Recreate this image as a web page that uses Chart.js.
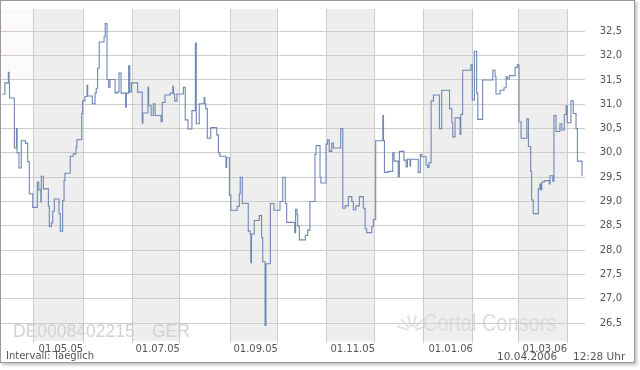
<!DOCTYPE html>
<html lang="de">
<head>
<meta charset="utf-8">
<title>DE0008402215 Kursverlauf</title>
<script src="https://cdn.jsdelivr.net/npm/chart.js@4/dist/chart.umd.min.js"></script>
<style>
  html, body { margin: 0; padding: 0; background: #fff; }
  #rahmen { position: absolute; left: 0; top: 0; width: 633px; height: 361px; border: 1px solid #9a9a9a; background: #fff; box-shadow: 2px 2px 3px rgba(0,0,0,0.25); }
  #chart { position: absolute; left: 0; top: 0; }
  .fuss { position: absolute; top: 350px; font-family: 'DejaVu Sans'; font-size: 10px; line-height: 12px; color: #555; white-space: pre; }
</style>
</head>
<body>
<div id="rahmen"></div>
<canvas id="chart" width="640" height="370"></canvas>
<div class="fuss" style="left:6px">Intervall: Taeglich</div>
<div class="fuss" style="left:497px; font-size:10.5px">10.04.2006</div>
<div class="fuss" style="left:573px; font-size:10.5px">12:28 Uhr</div>
<script>
// Handelstage seit Anfang des Zeitraums (Stufen: neuer Kurs ab diesem Tag)
const handelstag = [0.7, 1.7, 3.2, 3.5, 3.7, 5.8, 6.7, 7.0, 7.8, 8.8, 10.6, 11.6, 12.3, 13.8, 15.8, 16.4, 17.3, 17.5, 18.4, 20.6,
  21.0, 21.9, 22.5, 23.2, 25.2, 25.8, 26.8, 27.4, 27.8, 30.1, 31.4, 32.6, 33.0, 35.1, 35.5, 36.5, 37.4, 37.7, 39.7, 40.9,
  41.4, 42.0, 42.7, 44.8, 45.3, 46.1, 46.8, 47.4, 49.6, 50.4, 51.3, 52.2, 54.2, 54.5, 55.5, 56.0, 56.7, 59.4, 61.4, 61.7,
  63.9, 64.2, 65.3, 66.2, 67.0, 69.6, 70.1, 71.3, 73.6, 74.7, 75.0, 75.5, 76.5, 79.3, 80.1, 81.3, 83.0, 84.5, 84.9, 86.2,
  88.3, 88.6, 89.0, 89.7, 91.2, 93.8, 94.5, 95.2, 97.8, 98.1, 99.3, 99.9, 102.7, 103.6, 104.0, 104.9, 107.5, 108.3, 108.6, 108.9,
  110.1, 112.3, 113.3, 113.8, 114.8, 115.2, 117.1, 118.7, 121.3, 122.5, 123.6, 124.2, 127.7, 128.1, 128.7, 129.0, 129.7, 132.3, 133.3, 134.3,
  136.5, 137.0, 138.7, 139.1, 141.3, 142.0, 142.7, 143.8, 144.5, 147.7, 148.6, 149.6, 151.0, 152.5, 153.2, 154.3, 155.8, 157.5, 158.3, 159.0,
  161.2, 161.9, 162.9, 166.0, 166.3, 166.7, 168.4, 170.3, 170.9, 172.7, 173.2, 175.2, 176.1, 176.7, 177.8, 178.1, 181.4, 182.3, 182.9, 184.8,
  185.5, 186.1, 187.0, 188.0, 190.6, 191.6, 195.0, 196.0, 196.4, 197.4, 199.6, 199.9, 200.7, 204.3, 204.9, 205.8, 206.8, 207.3, 209.4, 213.8,
  214.8, 215.2, 217.0, 218.7, 219.6, 220.1, 221.0, 223.5, 224.5, 225.2, 226.1, 228.6, 229.3, 230.3, 230.7, 231.4, 233.6, 234.3, 234.7, 235.1,
  236.2, 238.4, 238.7, 239.9, 240.4, 241.3, 243.0, 243.8, 244.9, 245.7, 246.2, 247.8, 248.8, 250.0, 250.6, 252.6];

const kurs = [31.21, 31.44, 31.66, 31.44, 31.13, 30.10, 30.50, 30.00, 29.69, 30.25, 30.20, 29.82, 29.16, 28.88, 29.40, 29.24, 28.99, 29.52, 29.26, 28.90,
  28.48, 28.56, 28.80, 29.05, 28.75, 28.39, 29.02, 29.43, 29.58, 29.93, 29.98, 30.12, 30.27, 30.81, 31.07, 31.16, 31.39, 31.17, 31.01, 31.23,
  31.33, 31.74, 32.28, 32.39, 32.66, 31.51, 31.35, 31.51, 31.23, 31.25, 31.64, 31.23, 30.94, 31.23, 31.79, 31.25, 31.44, 31.25, 30.61, 30.82,
  31.35, 30.97, 30.77, 31.01, 30.77, 30.64, 31.04, 31.19, 31.23, 31.37, 31.21, 31.07, 31.21, 31.35, 30.68, 30.49, 30.87, 32.26, 30.60, 31.01,
  31.14, 31.01, 30.91, 30.30, 30.52, 30.37, 30.00, 29.93, 29.70, 29.90, 29.13, 28.82, 28.90, 29.16, 29.50, 28.96, 28.39, 28.33, 27.74, 28.33,
  28.61, 28.71, 28.26, 27.76, 26.45, 27.72, 28.96, 28.82, 29.00, 29.50, 28.96, 28.57, 28.36, 28.84, 28.73, 28.49, 28.21, 28.30, 28.41, 29.00,
  29.97, 30.15, 29.50, 29.38, 30.18, 30.27, 30.03, 30.20, 30.10, 30.50, 28.86, 28.91, 29.10, 29.00, 28.83, 28.91, 29.10, 28.86, 28.44, 28.36,
  28.48, 28.63, 30.25, 30.77, 30.25, 29.60, 29.62, 30.00, 29.83, 29.51, 30.03, 29.85, 29.71, 29.87, 29.73, 29.87, 29.60, 29.97, 29.92, 29.75,
  29.70, 29.80, 31.07, 31.19, 30.50, 31.29, 30.91, 30.62, 30.33, 30.72, 30.38, 30.79, 31.70, 31.81, 31.09, 32.09, 31.23, 30.69, 31.50, 31.70,
  31.57, 31.21, 31.29, 31.34, 31.57, 31.52, 31.59, 31.76, 31.81, 30.64, 30.30, 30.70, 30.13, 29.62, 29.03, 28.75, 29.26, 29.36, 29.24, 29.40,
  29.43, 29.36, 29.53, 29.42, 30.77, 30.44, 30.60, 30.47, 30.79, 30.97, 30.62, 31.07, 30.81, 30.50, 29.83, 29.52];

// Monatsanfänge (Handelstag) und Beschriftung
const monatsGrenzen = [14.3, 35.7, 57.0, 77.8, 99.6, 120.4, 141.7, 162.6, 183.9, 205.2, 224.8, 246.1];
const monatsLabels = ['', '01.05.05', '', '01.07.05', '', '01.09.05', '', '01.11.05', '', '01.01.06', '', '01.03.06'];
const kursTicks = [26.5, 27.0, 27.5, 28.0, 28.5, 29.0, 29.5, 30.0, 30.5, 31.0, 31.5, 32.0, 32.5];

Chart.defaults.font.family = "'DejaVu Sans'";

const hintergrund = {
  id: 'hintergrund',
  beforeDraw(chart) {
    const { ctx, chartArea: a, scales: { x, y } } = chart;
    ctx.save();
    // feine Streifen oben links
    ctx.fillStyle = '#fcf5f7';
    const xs = x.getPixelForValue(monatsGrenzen[0]);
    for (let yy = a.top + 1; yy < y.getPixelForValue(31.5); yy += 2) ctx.fillRect(a.left, yy, xs - a.left, 1);
    // graue Monatsbänder
    ctx.fillStyle = '#eeeeee';
    for (let i = 0; i + 1 < monatsGrenzen.length; i += 2) {
      const x0 = x.getPixelForValue(monatsGrenzen[i]);
      const x1 = x.getPixelForValue(monatsGrenzen[i + 1]);
      ctx.fillRect(x0, a.top, x1 - x0, a.bottom - a.top);
    }
    // Wasserzeichen
    ctx.fillStyle = '#d3d3d3';
    ctx.font = '17.5px "Liberation Sans"';
    ctx.textBaseline = 'alphabetic';
    ctx.fillText('DE0008402215', a.left + 12, a.bottom - 4.5);
    ctx.fillText('GER', a.left + 151, a.bottom - 4.5);
    ctx.fillStyle = '#dcdcdc';
    ctx.save();
    ctx.translate(423, 331);
    ctx.scale(0.81, 1);
    ctx.font = '24.7px "Liberation Sans"';
    ctx.fillText('Cortal Consors', 0, 0);
    ctx.restore();
    ctx.strokeStyle = '#e2e2e2';
    ctx.lineWidth = 2;
    for (let k = 0; k < 6; k++) {
      const w = -Math.PI * 0.9 + k * 0.16 * Math.PI;
      ctx.beginPath();
      ctx.moveTo(412 + Math.cos(w) * 4, 331 + Math.sin(w) * 4);
      ctx.lineTo(412 + Math.cos(w) * 16, 331 + Math.sin(w) * 16);
      ctx.stroke();
    }
    ctx.restore();
  }
};

new Chart(document.getElementById('chart'), {
  type: 'line',
  data: {
    datasets: [{
      data: handelstag.map((t, i) => ({ x: t, y: kurs[i] })),
      stepped: true,
      borderColor: '#6f87b4',
      borderWidth: 1.1,
      pointRadius: 0,
      fill: false
    }]
  },
  options: {
    responsive: false,
    animation: false,
    layout: { padding: { left: 1, top: 1, right: 18, bottom: 0 } },
    plugins: { legend: { display: false }, tooltip: { enabled: false } },
    scales: {
      x: {
        type: 'linear',
        min: 0,
        max: 253.9,
        afterBuildTicks: s => { s.ticks = monatsGrenzen.map(v => ({ value: v })); },
        afterFit: s => { s.height = 29; },
        grid: { color: '#cccccc', drawTicks: true, tickLength: 2, tickColor: '#cccccc' },
        border: { display: false },
        ticks: {
          autoSkip: false, maxRotation: 0, align: 'end', padding: 0,
          color: '#555', font: { size: 10 },
          callback: (v, i) => monatsLabels[i]
        }
      },
      y: {
        position: 'right',
        min: 26.13,
        max: 32.96,
        afterBuildTicks: s => { s.ticks = kursTicks.map(v => ({ value: v })); },
        afterFit: s => { s.width = 37; },
        grid: { color: '#cccccc', drawTicks: false },
        border: { display: false },
        ticks: {
          crossAlign: 'far', color: '#555', font: { size: 10 },
          callback: v => v.toFixed(1).replace('.', ',')
        }
      }
    }
  },
  plugins: [hintergrund]
});
</script>
</body>
</html>
